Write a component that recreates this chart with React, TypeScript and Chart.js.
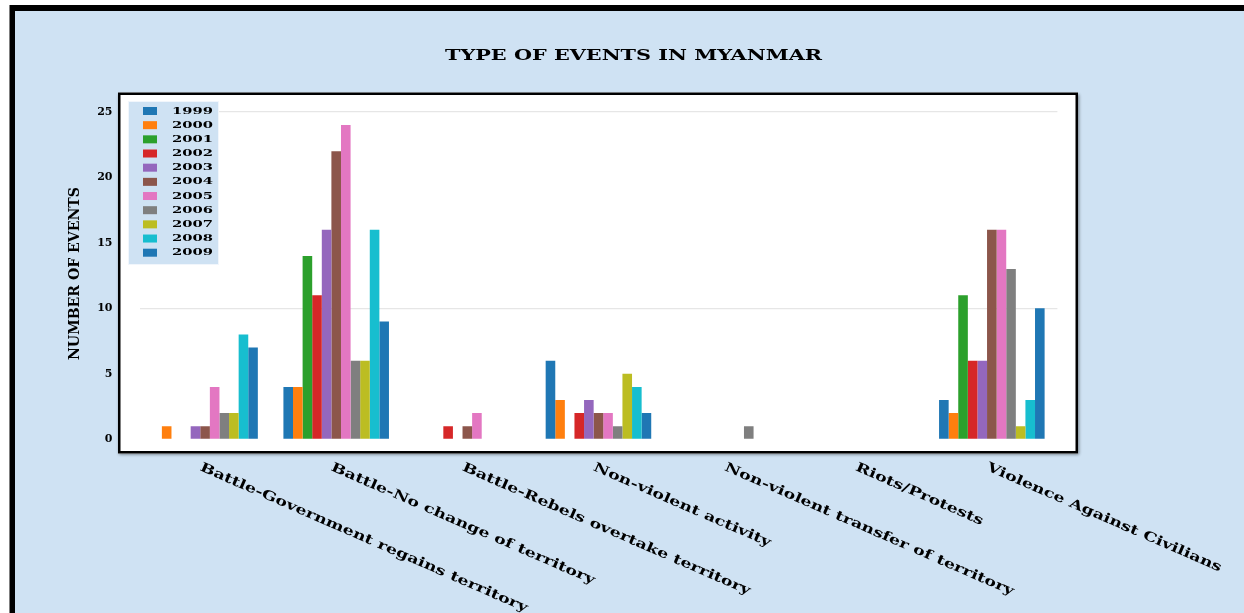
import React, { useEffect, useRef } from "react";
import { Chart, registerables } from "chart.js";

Chart.register(...registerables);

const TITLE = "TYPE OF EVENTS IN MYANMAR";
const Y_LABEL = "NUMBER OF EVENTS";

const categories = [
  "Battle-Government regains territory",
  "Battle-No change of territory",
  "Battle-Rebels overtake territory",
  "Non-violent activity",
  "Non-violent transfer of territory",
  "Riots/Protests",
  "Violence Against Civilians",
];

const years = ["1999", "2000", "2001", "2002", "2003", "2004", "2005", "2006", "2007", "2008", "2009"];

const colors = [
  "#1f77b4", "#ff7f0e", "#2ca02c", "#d62728", "#9467bd", "#8c564b",
  "#e377c2", "#7f7f7f", "#bcbd22", "#17becf", "#1f77b4",
];

const v1999 = [0, 4, 0, 6, 0, 0, 3];
const v2000 = [1, 4, 0, 3, 0, 0, 2];
const v2001 = [0, 14, 0, 0, 0, 0, 11];
const v2002 = [0, 11, 1, 2, 0, 0, 6];
const v2003 = [1, 16, 0, 3, 0, 0, 6];
const v2004 = [1, 22, 1, 2, 0, 0, 16];
const v2005 = [4, 24, 2, 2, 0, 0, 16];
const v2006 = [2, 6, 0, 1, 1, 0, 13];
const v2007 = [2, 6, 0, 5, 0, 0, 1];
const v2008 = [8, 16, 0, 4, 0, 0, 3];
const v2009 = [7, 9, 0, 2, 0, 0, 10];

const seriesValues = [v1999, v2000, v2001, v2002, v2003, v2004, v2005, v2006, v2007, v2008, v2009];

const yTicks = [0, 5, 10, 15, 20, 25];
const gridValues = [10, 25];

const W = 1244;
const H = 613;
const BG = "#cfe2f3";
const FONT = '"DejaVu Serif", serif';

function stretchText(
  ctx: CanvasRenderingContext2D,
  text: string,
  x: number,
  y: number,
  targetWidth: number,
  angle: number,
  align: CanvasTextAlign,
  baseline: CanvasTextBaseline
) {
  const w = ctx.measureText(text).width;
  const sx = targetWidth / w;
  ctx.save();
  ctx.translate(x, y);
  ctx.rotate(angle);
  ctx.scale(sx, 1);
  ctx.textAlign = align;
  ctx.textBaseline = baseline;
  ctx.fillText(text, 0, 0);
  ctx.restore();
}

const framePlugin = {
  id: "framePlugin",
  beforeDraw(chart: any) {
    const ctx: CanvasRenderingContext2D = chart.ctx;
    ctx.save();
    ctx.fillStyle = "#ffffff";
    ctx.fillRect(0, 0, W, H);
    ctx.fillStyle = "#000";
    ctx.fillRect(9.5, 5, W, H);
    ctx.fillStyle = BG;
    ctx.fillRect(15, 11, W, H);
    ctx.shadowColor = "rgba(0,0,0,0.45)";
    ctx.shadowBlur = 3;
    ctx.shadowOffsetX = 1;
    ctx.shadowOffsetY = 1;
    ctx.fillStyle = "#ffffff";
    ctx.fillRect(118, 92.5, 960, 361);
    ctx.restore();
  },
  afterDraw(chart: any) {
    const ctx: CanvasRenderingContext2D = chart.ctx;
    const xScale = chart.scales.x;
    ctx.save();
    ctx.strokeStyle = "#000";
    ctx.lineWidth = 2.5;
    ctx.strokeRect(119.25, 93.75, 957.5, 358.5);

    ctx.fillStyle = BG;
    ctx.fillRect(128, 101, 91, 164);
    ctx.strokeStyle = "rgba(255,255,255,0.7)";
    ctx.lineWidth = 1;
    ctx.strokeRect(128.5, 101.5, 90, 163);
    ctx.font = `bold 10px ${FONT}`;
    years.forEach((yr, i) => {
      const cy = 111 + i * 14.17;
      ctx.fillStyle = colors[i];
      ctx.fillRect(143, cy - 4, 14, 8);
      ctx.fillStyle = "#000";
      stretchText(ctx, yr, 172, cy, 41, 0, "left", "middle");
    });

    ctx.fillStyle = "#000";
    ctx.font = `bold 14px ${FONT}`;
    stretchText(ctx, TITLE, 633.5, 56, 377, 0, "center", "middle");

    ctx.font = `bold 14px ${FONT}`;
    stretchText(ctx, Y_LABEL, 75, 273.5, 173, -Math.PI / 2, "center", "middle");

    ctx.font = `bold 13px ${FONT}`;
    const ref = ctx.measureText(categories[0]).width;
    const sx = 356 / ref;
    const angle = (23.5 * Math.PI) / 180;
    categories.forEach((c, i) => {
      const cx = xScale.getPixelForValue(i) - 2;
      const w = ctx.measureText(c).width * sx;
      stretchText(ctx, c, cx, 461, w, angle, "left", "top");
    });
    ctx.restore();
  },
};

export default function App() {
  const canvasRef = useRef<HTMLCanvasElement | null>(null);

  useEffect(() => {
    const canvas = canvasRef.current;
    if (!canvas) return;
    const chart = new Chart(canvas, {
      type: "bar",
      data: {
        labels: categories,
        datasets: years.map((yr, i) => ({
          label: yr,
          data: seriesValues[i],
          backgroundColor: colors[i],
          borderWidth: 0,
          categoryPercentage: 0.805,
          barPercentage: 1.0,
        })),
      },
      options: {
        responsive: false,
        animation: false,
        devicePixelRatio: 1,
        layout: {
          padding: { left: 0, right: W - 1057.4, top: 93, bottom: H - 453 },
        },
        plugins: {
          legend: { display: false },
          title: { display: false },
          tooltip: { enabled: false },
        },
        scales: {
          x: {
            type: "category",
            display: false,
            offset: true,
          },
          y: {
            type: "linear",
            min: -1.05,
            max: 26.45,
            afterFit: (s: any) => {
              s.width = 139.5;
            },
            afterBuildTicks: (s: any) => {
              s.ticks = yTicks.map((v) => ({ value: v }));
            },
            border: { display: false },
            grid: {
              drawTicks: false,
              lineWidth: 1.2,
              color: (c: any) =>
                c.tick && gridValues.includes(c.tick.value) ? "#e6e6e6" : "rgba(0,0,0,0)",
            },
            ticks: {
              padding: 27,
              color: "#000",
              font: { family: FONT, size: 11, weight: "bold" },
              callback: (v: any) => String(v),
            },
          },
        },
      },
      plugins: [framePlugin],
    });
    return () => chart.destroy();
  }, []);

  return (
    <div style={{ position: "fixed", left: 0, top: 0, width: W, height: H }}>
      <canvas ref={canvasRef} width={W} height={H} style={{ display: "block", width: W, height: H }} />
    </div>
  );
}
